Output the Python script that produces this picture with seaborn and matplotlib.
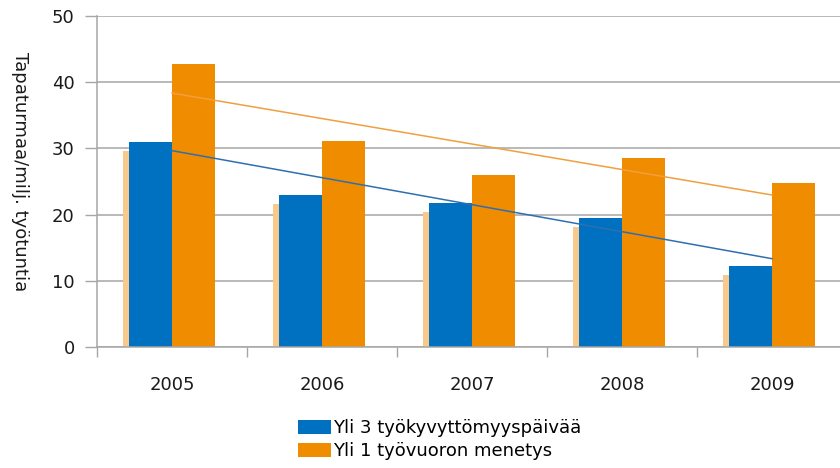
import matplotlib.pyplot as plt
import matplotlib.transforms as mtransforms
import numpy as np
import pandas as pd
import seaborn as sns
from matplotlib.patches import Patch

YEARS = ["2005", "2006", "2007", "2008", "2009"]
OVER_3_DAYS = [31.0, 22.9, 21.8, 19.5, 12.3]
OVER_1_SHIFT = [42.8, 31.1, 26.0, 28.6, 24.8]
SERIES_NAMES = ["Yli 3 työkyvyttömyyspäivää", "Yli 1 työvuoron menetys"]

BLUE = "#0070c0"
ORANGE = "#f08c00"
SHADOW = "#f9c98c"
GRID = "#a6a6a6"
TEXT = "#1a1a1a"
FONT_SIZE = 13


def build_frame() -> pd.DataFrame:
    rows = []
    for series, values in zip(SERIES_NAMES, [OVER_3_DAYS, OVER_1_SHIFT]):
        for year, value in zip(YEARS, values):
            rows.append({"year": year, "series": series, "value": value})
    return pd.DataFrame(rows)


plt.rcParams["font.family"] = ["DejaVu Sans"]

fig = plt.figure(figsize=(8.4, 4.68), dpi=100)
ax = fig.add_axes([97 / 840, 121 / 468, 750 / 840, 331 / 468])

data = build_frame()
bar_width = 0.567

# soft shadow behind the blue bars, offset a few pixels left / down
positions = np.arange(len(YEARS))
shadow_offset = mtransforms.ScaledTranslation(-6 / 100, -9 / 100, fig.dpi_scale_trans)
ax.bar(
    positions - bar_width / 4,
    OVER_3_DAYS,
    width=bar_width / 2,
    color=SHADOW,
    linewidth=0,
    zorder=1,
    transform=ax.transData + shadow_offset,
)

sns.barplot(
    data=data,
    x="year",
    y="value",
    hue="series",
    palette=[BLUE, ORANGE],
    width=bar_width,
    gap=0,
    saturation=1,
    legend=False,
    ax=ax,
    zorder=2,
)

# linear trend lines
for values, color in [(OVER_1_SHIFT, "#f0a040"), (OVER_3_DAYS, "#2f6fb0")]:
    slope, intercept = np.polyfit(positions, values, 1)
    ends = np.array([positions[0], positions[-1]])
    ax.plot(ends, slope * ends + intercept, color=color, linewidth=1.1, zorder=3)

ax.set_xlim(-0.5, len(YEARS) - 0.5)
ax.set_ylim(0, 50)
ax.set_yticks(range(0, 51, 10))
ax.set_xticks(positions)
ax.set_xticklabels(YEARS)
ax.set_xticks(np.arange(-0.5, len(YEARS), 1.0), minor=True)
ax.tick_params(axis="x", which="major", length=0, pad=21, labelsize=FONT_SIZE, colors=TEXT)
ax.tick_params(axis="x", which="minor", length=7, color=GRID, width=1)
ax.tick_params(axis="y", length=9, color=GRID, width=1, pad=7, labelsize=FONT_SIZE, colors=TEXT)

ax.set_axisbelow(True)
ax.yaxis.grid(True, color=GRID, linewidth=1.1)
ax.xaxis.grid(False)
for side in ["top", "right"]:
    ax.spines[side].set_visible(False)
for side in ["left", "bottom"]:
    ax.spines[side].set_color(GRID)
    ax.spines[side].set_linewidth(1.1)

ax.set_xlabel("")
ax.set_ylabel(
    "Tapaturmaa/milj. työtuntia",
    fontsize=FONT_SIZE,
    color=TEXT,
    rotation=270,
    va="center",
    ha="center",
)
ax.yaxis.set_label_coords(-77 / 750, 0.53)

handles = [Patch(facecolor=BLUE), Patch(facecolor=ORANGE)]
fig.legend(
    handles,
    SERIES_NAMES,
    loc="upper left",
    bbox_to_anchor=(298 / 840, 1 - 419 / 468),
    frameon=False,
    fontsize=FONT_SIZE,
    handlelength=1.85,
    handleheight=0.85,
    handletextpad=0.1,
    labelspacing=0.3,
    borderpad=0,
    borderaxespad=0,
)

fig.savefig("out.png", dpi=100)
